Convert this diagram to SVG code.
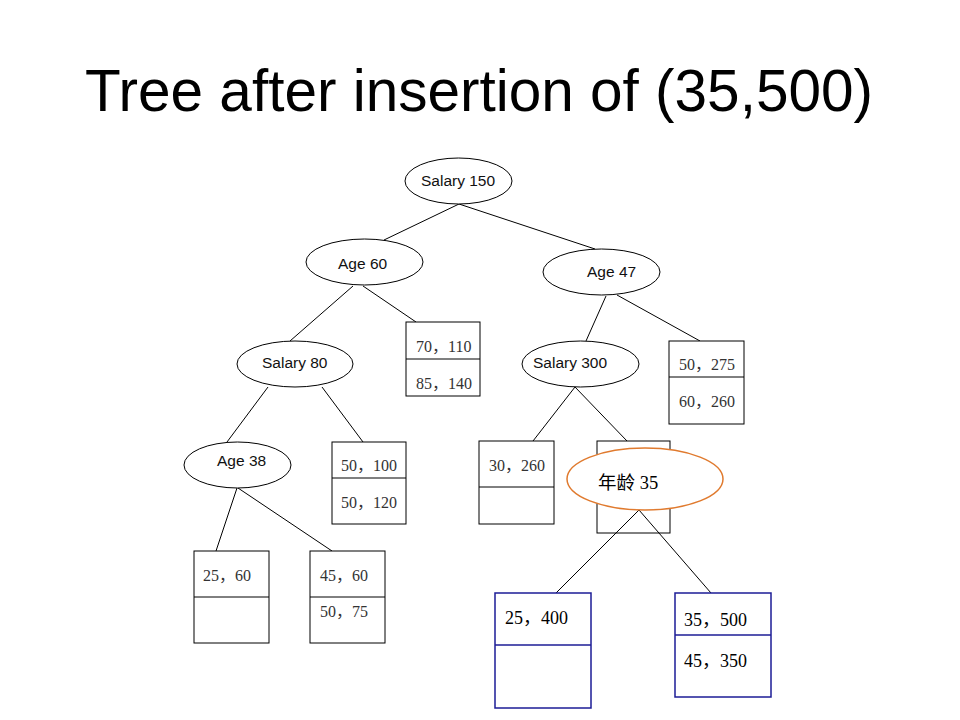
<svg xmlns="http://www.w3.org/2000/svg" width="960" height="720" viewBox="0 0 960 720">
<style>
.bg{fill:#ffffff}
.title{font-family:"Liberation Sans",Arial,sans-serif;font-size:58.5px;fill:#000}
.oval{fill:#fff;stroke:#000;stroke-width:1}
.olab{font-family:"Liberation Sans",Arial,sans-serif;font-size:15.5px;fill:#111}
.box{fill:#fff;stroke:#000;stroke-width:1}
.blab{font-family:"Liberation Serif","Noto Sans CJK SC",serif;font-size:16px;fill:#333}
.bbox{fill:#fff;stroke:#1c1c96;stroke-width:1.5}
.bblab{font-family:"Liberation Serif","Noto Sans CJK SC",serif;font-size:18px;fill:#000}
.hl{fill:#fff;stroke:#e07a2e;stroke-width:1.5}
.hlab{font-family:"Liberation Serif","Noto Sans CJK SC",serif;font-size:18.5px;fill:#000}
.edge{stroke:#000;stroke-width:1;fill:none}
</style>
<rect class="bg" x="0" y="0" width="960" height="720"/>
<text class="title" x="85" y="111">Tree after insertion of (35,500)</text>

<g id="connectors">
<line class="edge" x1="459" y1="204" x2="384" y2="240"/>
<line class="edge" x1="459" y1="204" x2="595" y2="249"/>
<line class="edge" x1="353" y1="286" x2="290" y2="341"/>
<line class="edge" x1="363" y1="286" x2="416" y2="322"/>
<line class="edge" x1="268" y1="387" x2="227" y2="442"/>
<line class="edge" x1="322" y1="387" x2="363" y2="442"/>
<line class="edge" x1="237" y1="488" x2="216" y2="551"/>
<line class="edge" x1="238" y1="488" x2="332" y2="551"/>
<line class="edge" x1="606" y1="296" x2="586" y2="341"/>
<line class="edge" x1="617" y1="295" x2="700" y2="341"/>
<line class="edge" x1="575" y1="387" x2="533" y2="441"/>
<line class="edge" x1="575" y1="387" x2="627" y2="441"/>
</g>

<g id="salary150">
<ellipse class="oval" cx="458.5" cy="181" rx="53.5" ry="23"/>
<text class="olab" x="421" y="186">Salary 150</text>
</g>
<g id="age60">
<ellipse class="oval" cx="364.5" cy="262" rx="58.5" ry="23"/>
<text class="olab" x="338" y="269">Age 60</text>
</g>
<g id="age47">
<ellipse class="oval" cx="601.5" cy="272" rx="58.5" ry="23"/>
<text class="olab" x="587" y="277">Age 47</text>
</g>
<g id="salary80">
<ellipse class="oval" cx="295" cy="364" rx="58" ry="23"/>
<text class="olab" x="262" y="368">Salary 80</text>
</g>
<g id="salary300">
<ellipse class="oval" cx="580.5" cy="364" rx="58.5" ry="23"/>
<text class="olab" x="533" y="368">Salary 300</text>
</g>
<g id="age38">
<ellipse class="oval" cx="237.5" cy="465" rx="53.5" ry="23"/>
<text class="olab" x="217" y="466">Age 38</text>
</g>

<g id="leaf70_110">
<rect class="box" x="406" y="322" width="74" height="74"/>
<line class="box" x1="406" y1="359" x2="480" y2="359"/>
<text class="blab" x="416" y="352">70，110</text>
<text class="blab" x="416" y="389">85，140</text>
</g>
<g id="leaf50_275">
<rect class="box" x="669" y="341" width="75" height="83"/>
<line class="box" x1="669" y1="377" x2="744" y2="377"/>
<text class="blab" x="679" y="370">50，275</text>
<text class="blab" x="679" y="407">60，260</text>
</g>
<g id="leaf50_100">
<rect class="box" x="332" y="442" width="74" height="82"/>
<line class="box" x1="332" y1="478" x2="406" y2="478"/>
<text class="blab" x="341" y="471">50，100</text>
<text class="blab" x="341" y="508">50，120</text>
</g>
<g id="leaf25_60">
<rect class="box" x="194" y="551" width="75" height="92"/>
<line class="box" x1="194" y1="597" x2="269" y2="597"/>
<text class="blab" x="203" y="581">25，60</text>
</g>
<g id="leaf45_60">
<rect class="box" x="310" y="551" width="75" height="92"/>
<line class="box" x1="310" y1="597" x2="385" y2="597"/>
<text class="blab" x="320" y="581">45，60</text>
<text class="blab" x="320" y="617">50，75</text>
</g>
<g id="leaf30_260">
<rect class="box" x="479" y="441" width="75" height="83"/>
<line class="box" x1="479" y1="487" x2="554" y2="487"/>
<text class="blab" x="489" y="471">30，260</text>
</g>
<g id="leaf_split">
<rect class="box" x="597" y="441" width="73" height="92"/>
</g>
<g id="connectors_new">
<line class="edge" x1="639" y1="510" x2="556" y2="593"/>
<line class="edge" x1="639" y1="510" x2="711" y2="593"/>
</g>
<g id="age35">
<ellipse class="hl" cx="645" cy="479" rx="78" ry="31"/>
<text class="hlab" x="598" y="489">年龄 35</text>
</g>
<g id="leaf25_400">
<rect class="bbox" x="495" y="593" width="96" height="115"/>
<line class="bbox" x1="495" y1="645" x2="591" y2="645"/>
<text class="bblab" x="505" y="624">25，400</text>
</g>
<g id="leaf35_500">
<rect class="bbox" x="675" y="593" width="96" height="104"/>
<line class="bbox" x1="675" y1="635" x2="771" y2="635"/>
<text class="bblab" x="684" y="626">35，500</text>
<text class="bblab" x="684" y="667">45，350</text>
</g>
</svg>
